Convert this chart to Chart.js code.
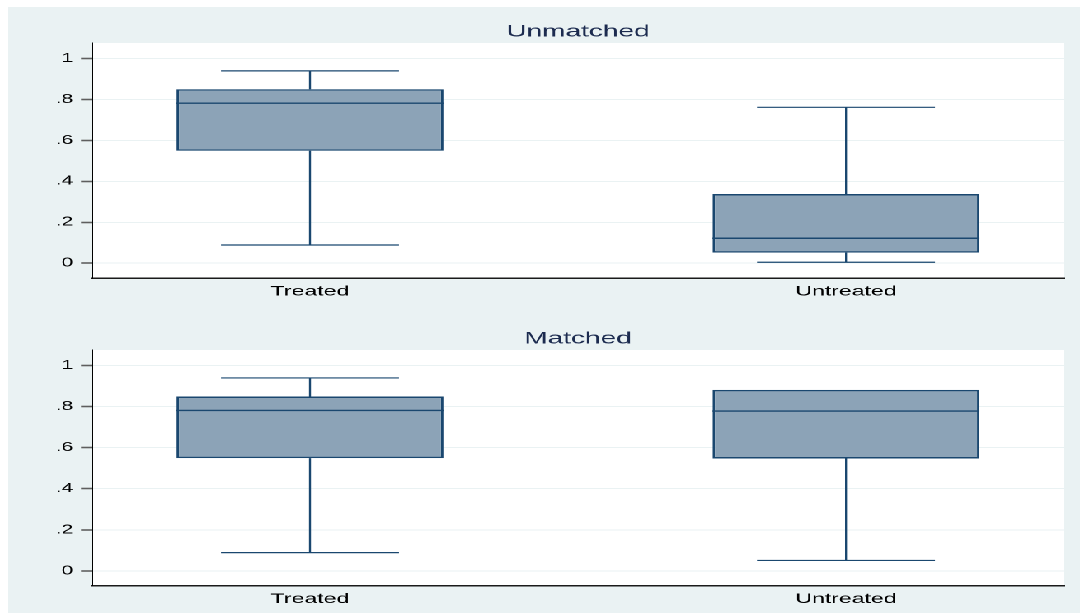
<!DOCTYPE html>
<html><head><meta charset="utf-8">
<script src="https://cdn.jsdelivr.net/npm/chart.js@4.4.1/dist/chart.umd.min.js"></script>
<style>
html,body{margin:0;padding:0;background:#fff;width:1080px;height:613px;overflow:hidden;}
#bg{position:absolute;left:8px;top:7px;right:0;bottom:0;background:#eaf2f3;}
#stage{position:absolute;left:0;top:0;width:655px;height:613px;transform-origin:0 0;}
#stage canvas{position:absolute;left:0;}
</style></head><body>
<div id="bg"></div>
<div id="stage">
<canvas id="c1" width="655" height="307" style="top:0px"></canvas>
<canvas id="c2" width="655" height="306" style="top:307px"></canvas>
</div>
<script>
// ---- data ----
const categories = ['Treated', 'Untreated'];
const panelTitles = ['Unmatched', 'Matched'];
const yTickValues = [0, 0.2, 0.4, 0.6, 0.8, 1];
const yTickLabels = ['0', '.2', '.4', '.6', '.8', '1'];

const unmatchedLow    = [0.089, 0.005];
const unmatchedQ1     = [0.549, 0.052];
const unmatchedMedian = [0.781, 0.122];
const unmatchedQ3     = [0.849, 0.338];
const unmatchedHigh   = [0.939, 0.761];

const matchedLow    = [0.089, 0.051];
const matchedQ1     = [0.549, 0.547];
const matchedMedian = [0.781, 0.778];
const matchedQ3     = [0.849, 0.881];
const matchedHigh   = [0.939, 0.881];

// ---- layout / style ----
const CW = 655;
const S = 1080 / CW;                 // horizontal stretch of the picture
document.getElementById('stage').style.transform = 'scaleX(' + S + ')';
Chart.defaults.font.family = '"Liberation Sans", Arial, Helvetica, sans-serif';
const NAVY = '#1a476f';
const BOXFILL = '#8ca3b7';
const BOX_HALF = 0.249, CAP_HALF = 0.166;

const plotBg = {
  id: 'plotBg',
  beforeDraw(chart) {
    const {ctx, chartArea: a} = chart;
    ctx.save();
    ctx.fillStyle = '#ffffff';
    ctx.fillRect(a.left, a.top, a.width, a.height);
    ctx.restore();
  }
};

function makePanel(id, title, lo, q1, med, q3, hi, xAxisHeight) {
  const xs = categories.map((_, i) => i + 1);
  const boxes = xs.map((x, i) => ({x: x, y: [q1[i], q3[i]]}));
  const medians = [];
  const whiskers = [];
  xs.forEach((x, i) => {
    medians.push({x: x - BOX_HALF, y: med[i]}, {x: x + BOX_HALF, y: med[i]}, {x: x, y: null});
    if (hi[i] > q3[i]) {
      whiskers.push(
        {x: x - CAP_HALF, y: hi[i]}, {x: x + CAP_HALF, y: hi[i]}, {x: x, y: null},
        {x: x, y: hi[i]}, {x: x, y: q3[i]}, {x: x, y: null});
    }
    if (lo[i] < q1[i]) {
      whiskers.push(
        {x: x, y: q1[i]}, {x: x, y: lo[i]}, {x: x, y: null},
        {x: x - CAP_HALF, y: lo[i]}, {x: x + CAP_HALF, y: lo[i]}, {x: x, y: null});
    }
  });
  return new Chart(document.getElementById(id), {
    type: 'bar',
    data: {
      datasets: [
        {type: 'bar', data: boxes, backgroundColor: BOXFILL, borderColor: NAVY,
         borderWidth: 1.5, borderSkipped: false, barPercentage: 2 * BOX_HALF,
         categoryPercentage: 1, order: 3},
        {type: 'line', data: medians, borderColor: NAVY, borderWidth: 1.4,
         pointRadius: 0, spanGaps: false, fill: false, order: 1},
        {type: 'line', data: whiskers, borderColor: NAVY, borderWidth: 1.2,
         pointRadius: 0, spanGaps: false, fill: false, order: 2}
      ]
    },
    options: {
      responsive: false,
      devicePixelRatio: 2,
      animation: false,
      events: [],
      layout: {padding: {left: 0, top: 0, bottom: 0, right: CW - 1064 / S}},
      plugins: {
        legend: {display: false},
        tooltip: {enabled: false},
        title: {
          display: true, text: title, fullSize: false, color: '#1c2b4f',
          font: {size: 17, weight: 'normal'},
          padding: {top: 21.8, bottom: 0.8}
        }
      },
      scales: {
        x: {
          type: 'linear', min: 0.5933, max: 2.4067, offset: false,
          grid: {display: false, drawTicks: false, offset: false},
          border: {display: true, color: '#1a1a1a', width: 1.5},
          ticks: {color: '#000', font: {size: 14}, padding: 5, maxRotation: 0,
                  callback: (v, i) => categories[i]},
          afterBuildTicks: (sc) => { sc.ticks = xs.map(v => ({value: v})); },
          afterFit: (sc) => { sc.height = xAxisHeight; }
        },
        y: {
          min: -0.072, max: 1.075,
          grid: {color: '#eaf2f3', lineWidth: 1, tickColor: '#5e5e5e',
                 tickLength: 11 / S, tickWidth: 1.6},
          border: {display: true, color: '#000', width: 1},
          ticks: {color: '#000', font: {size: 12.5}, padding: 8 / S,
                  callback: (v, i) => yTickLabels[i]},
          afterBuildTicks: (sc) => { sc.ticks = yTickValues.map(v => ({value: v})); },
          afterFit: (sc) => { sc.width = 92 / S; }
        }
      }
    },
    plugins: [plotBg]
  });
}

makePanel('c1', panelTitles[0], unmatchedLow, unmatchedQ1, unmatchedMedian, unmatchedQ3, unmatchedHigh, 29);
makePanel('c2', panelTitles[1], matchedLow, matchedQ1, matchedMedian, matchedQ3, matchedHigh, 27.3);
</script>
</body></html>
